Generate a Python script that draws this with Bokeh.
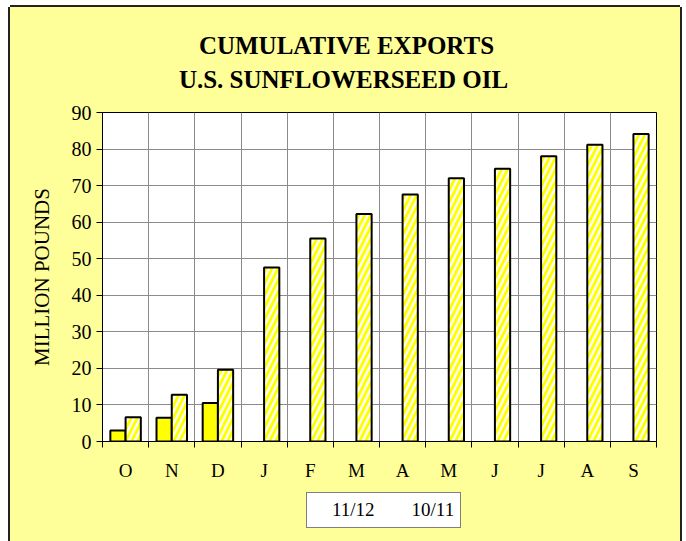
from bokeh.plotting import figure
from bokeh.layouts import column
from bokeh.models import (ColumnDataSource, FixedTicker, Label, Legend, LegendItem,
                          Range1d, CDSView, IndexFilter)
from bokeh.transform import dodge
from bokeh.embed import file_html
from bokeh.resources import INLINE

# ---- data ----
months = ["O", "N", "D", "J", "F", "M", "A", "M", "J", "J", "A", "S"]
exports_1112 = [3.0, 6.5, 10.5]
exports_1011 = [6.6, 12.8, 19.6, 47.6, 55.5, 62.2, 67.6, 72.0, 74.6, 78.0, 81.2, 84.1]
series_names = ["11/12", "10/11"]
y_ticks = [0, 10, 20, 30, 40, 50, 60, 70, 80, 90]
title_lines = ["CUMULATIVE EXPORTS", "U.S. SUNFLOWERSEED OIL"]
y_label = "MILLION POUNDS"

FONT = "Liberation Serif"
YELLOW_BG = "#FFFF99"
BAR_YELLOW = "#FFFF00"
W = 670
n = len(months)
centers = [i + 0.5 for i in range(n)]
bw = 0.33

style_a = dict(fill_color=BAR_YELLOW, line_color="black", line_width=2)
style_b = dict(fill_color="white", line_color="black", line_width=2,
               hatch_pattern="/", hatch_color=BAR_YELLOW, hatch_weight=3, hatch_scale=12)

src_a = ColumnDataSource(dict(x=centers[:len(exports_1112)], top=exports_1112))
src_b = ColumnDataSource(dict(x=centers, top=exports_1011))


def blank_fig(h, y_range):
    f = figure(width=W, height=h, title=None, x_range=Range1d(0, n), y_range=y_range,
               min_border=0, toolbar_location=None, output_backend="svg",
               x_axis_location=None, y_axis_location=None,
               border_fill_color=YELLOW_BG, background_fill_color=YELLOW_BG,
               outline_line_color=None)
    f.grid.visible = False
    return f


# ---- title strip (frame is aligned with the main chart's frame) ----
tf = blank_fig(93, Range1d(0, 1))
tf.add_layout(Label(x=244, y=55, x_units="screen", y_units="screen", text=title_lines[0],
                    text_align="center", text_baseline="middle", text_font=FONT,
                    text_font_size="25px", text_font_style="bold", text_color="black"))
tf.add_layout(Label(x=241, y=21, x_units="screen", y_units="screen", text=title_lines[1],
                    text_align="center", text_baseline="middle", text_font=FONT,
                    text_font_size="25px", text_font_style="bold", text_color="black"))

# ---- main chart ----
p = figure(width=W, height=390, title=None,
           x_range=Range1d(0, n), y_range=Range1d(0, 90),
           output_backend="svg", toolbar_location=None,
           min_border_left=92, min_border_right=24,
           min_border_top=12, min_border_bottom=49,
           border_fill_color=YELLOW_BG, background_fill_color="white",
           outline_line_color="black", outline_line_width=1)

p.vbar(x=dodge("x", -bw / 2, range=p.x_range), top="top", bottom=0, width=bw,
       source=src_a, **style_a)
p.vbar(x=dodge("x", bw / 2, range=p.x_range), top="top", bottom=0, width=bw,
       source=src_b, **style_b)

xt = FixedTicker(ticks=centers, minor_ticks=list(range(n + 1)))
p.xaxis.ticker = xt
p.xaxis.major_label_overrides = {c: m for c, m in zip(centers, months)}
p.xaxis.major_tick_out = 0
p.xaxis.major_tick_in = 0
p.xaxis.minor_tick_out = 6
p.xaxis.minor_tick_in = 0
p.xaxis.minor_tick_line_color = "black"
p.xaxis.axis_line_color = "black"
p.xaxis.major_label_text_font = FONT
p.xaxis.major_label_text_font_size = "19px"
p.xaxis.major_label_text_color = "black"
p.xaxis.major_label_standoff = 12

p.xgrid.ticker = xt
p.xgrid.grid_line_color = None
p.xgrid.minor_grid_line_color = "#8c8c8c"

yt = FixedTicker(ticks=y_ticks)
p.yaxis.ticker = yt
p.ygrid.ticker = yt
p.ygrid.grid_line_color = "#8c8c8c"
p.yaxis.major_tick_out = 6
p.yaxis.major_tick_in = 0
p.yaxis.minor_tick_out = 0
p.yaxis.minor_tick_in = 0
p.yaxis.axis_line_color = "black"
p.yaxis.major_tick_line_color = "black"
p.yaxis.major_label_text_font = FONT
p.yaxis.major_label_text_font_size = "20px"
p.yaxis.major_label_text_color = "black"
p.yaxis.major_label_standoff = 5
p.yaxis.axis_label = y_label
p.yaxis.axis_label_text_font = FONT
p.yaxis.axis_label_text_font_size = "21px"
p.yaxis.axis_label_text_font_style = "normal"
p.yaxis.axis_label_text_color = "black"
p.yaxis.axis_label_standoff = 15

# ---- legend strip: same series, filtered out (nothing drawn), only the legend shows ----
lf = blank_fig(51, Range1d(-2, -1))
la = lf.vbar(x=dodge("x", -bw / 2, range=lf.x_range), top="top", bottom=0, width=bw,
             source=src_a, view=CDSView(filter=IndexFilter(indices=[])), **style_a)
lb = lf.vbar(x=dodge("x", bw / 2, range=lf.x_range), top="top", bottom=0, width=bw,
             source=src_b, view=CDSView(filter=IndexFilter(indices=[])), **style_b)
legend = Legend(items=[LegendItem(label=series_names[0], renderers=[la]),
                       LegendItem(label=series_names[1], renderers=[lb])],
                orientation="horizontal", location=(204, 13),
                border_line_color="black", border_line_width=1,
                background_fill_color="white", background_fill_alpha=1,
                label_text_font=FONT, label_text_font_size="19px",
                label_text_color="black",
                glyph_width=13, glyph_height=13, label_standoff=6,
                spacing=18, padding=6, margin=0)
lf.add_layout(legend, "center")

layout = column(tf, p, lf, spacing=0)
layout.styles = {"margin-left": "10px", "margin-top": "7px",
                 "background-color": YELLOW_BG,
                 "box-shadow": "-2px 0 0 0 #222222, 2px 0 0 0 #222222, 0 -2px 0 0 #222222"}

open("out.html", "w").write(file_html(layout, INLINE))
